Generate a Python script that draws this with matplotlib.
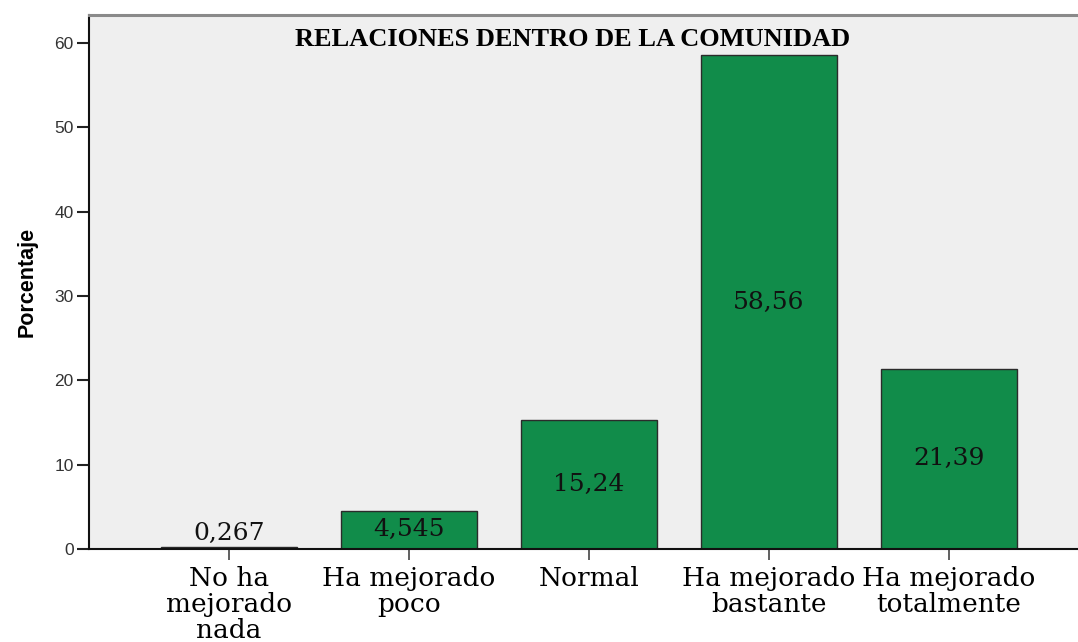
import numpy as np
import matplotlib
matplotlib.use("Agg")
import matplotlib.pyplot as plt

# Data
categorias = ["No ha\nmejorado\nnada", "Ha mejorado\npoco", "Normal",
              "Ha mejorado\nbastante", "Ha mejorado\ntotalmente"]
porcentajes = [0.267, 4.545, 15.24, 58.56, 21.39]
etiquetas = ["0,267", "4,545", "15,24", "58,56", "21,39"]
titulo = "RELACIONES DENTRO DE LA COMUNIDAD"

fig = plt.figure(figsize=(10.78, 6.42), dpi=100)
ax = fig.add_axes([89 / 1078, 93 / 642, 989 / 1078, 534 / 642])
ax.set_facecolor("#efefef")

x = np.arange(len(categorias))
ax.bar(x, porcentajes, width=0.756, color="#118c4a", edgecolor="#2b2b2b",
       linewidth=1.0, zorder=2)

# value labels, centred in the bars (small bars get a minimum height)
for xi, v, lab in zip(x, porcentajes, etiquetas):
    ax.text(xi, max(v / 2, 1.9), lab, ha="center", va="center",
            fontsize=18, family="DejaVu Serif", color="#111111", zorder=3)

ax.set_xlim(-0.778, 4.717)
ax.set_ylim(0, 63.3)
ax.set_yticks([0, 10, 20, 30, 40, 50, 60])
ax.set_xticks(x)
ax.set_xticklabels(categorias, family="DejaVu Serif", fontsize=19,
                   linespacing=1.05)
ax.tick_params(axis="y", length=9, width=1.5, color="#222222",
               labelsize=12.5, labelcolor="#333333", pad=2)
ax.tick_params(axis="x", length=8, width=1.2, color="#444444", pad=4)
for t in ax.get_yticklabels():
    t.set_family("Liberation Sans")

ax.spines["left"].set_color("#111111")
ax.spines["left"].set_linewidth(1.5)
ax.spines["bottom"].set_color("#111111")
ax.spines["bottom"].set_linewidth(1.5)
ax.spines["top"].set_color("#8a8a8a")
ax.spines["top"].set_linewidth(2.2)
ax.spines["right"].set_visible(False)

ax.set_ylabel("Porcentaje", family="Liberation Sans", fontweight="bold",
              fontsize=15.5, labelpad=12)

fig.text(573 / 1078, 1 - 40 / 642, titulo, ha="center", va="center",
         family="Liberation Serif", fontweight="bold", fontsize=19)

fig.savefig("out.png", dpi=100)
